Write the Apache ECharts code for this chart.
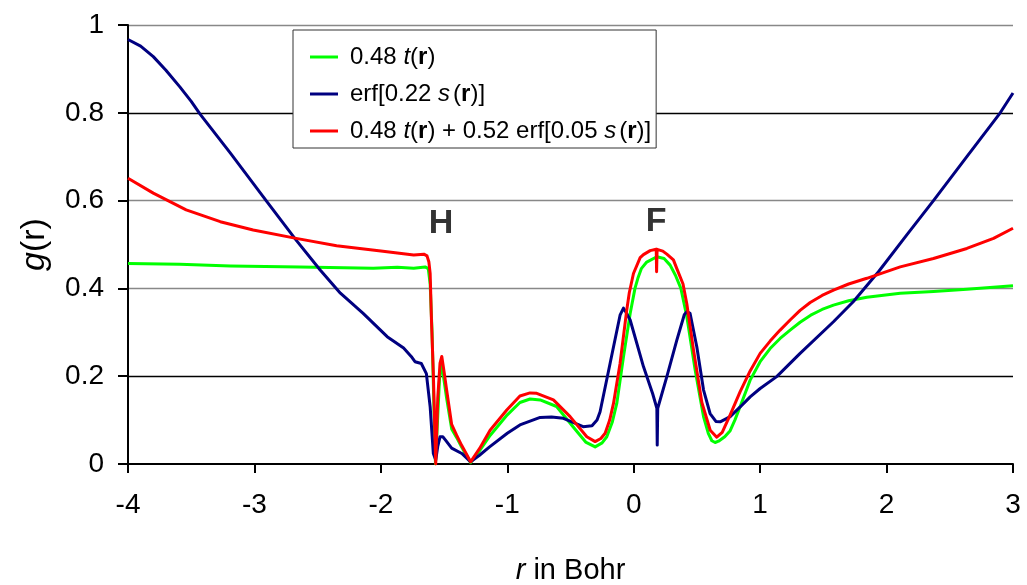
<!DOCTYPE html>
<html><head><meta charset="utf-8">
<script src="https://cdn.jsdelivr.net/npm/echarts@6/dist/echarts.min.js"></script>
<style>html,body{margin:0;padding:0;background:#fff}#c{width:1027px;height:585px}</style>
</head><body><div id="c"></div>
<script>
// ---- data ----
const xRange = [-4, 3];
const yRange = [0, 1];
const seriesNames = ['0.48 t(r)', 'erf[0.22 s(r)]', '0.48 t(r) + 0.52 erf[0.05 s(r)]'];
const seriesColors = ['#00ff00', '#000080', '#ff0000'];

const greenData = [
  [-4.00,0.457],[-3.59,0.455],[-3.19,0.451],[-2.64,0.449],[-2.06,0.446],[-1.87,0.448],[-1.74,0.446],
  [-1.65,0.449],[-1.625,0.445],[-1.61,0.41],[-1.595,0.30],[-1.582,0.15],[-1.568,0.0],[-1.55,0.11],
  [-1.535,0.20],[-1.518,0.225],[-1.50,0.19],[-1.48,0.15],[-1.44,0.08],[-1.40,0.06],[-1.36,0.038],
  [-1.29,0.003],[-1.22,0.03],[-1.136,0.065],[-1.00,0.112],[-0.90,0.140],[-0.82,0.148],[-0.74,0.146],
  [-0.61,0.131],[-0.48,0.085],[-0.38,0.050],[-0.305,0.039],[-0.25,0.048],[-0.213,0.062],[-0.17,0.095],
  [-0.134,0.138],[-0.081,0.244],[-0.028,0.343],[0.01,0.40],[0.035,0.425],[0.06,0.445],[0.103,0.460],
  [0.183,0.472],[0.24,0.468],[0.288,0.453],[0.33,0.43],[0.373,0.40],[0.42,0.336],[0.486,0.214],
  [0.552,0.108],[0.59,0.07],[0.618,0.053],[0.644,0.049],[0.671,0.052],[0.72,0.062],[0.763,0.076],
  [0.80,0.10],[0.842,0.131],[0.921,0.191],[1.0,0.233],[1.079,0.263],[1.158,0.286],[1.237,0.305],
  [1.316,0.323],[1.40,0.339],[1.49,0.352],[1.58,0.362],[1.70,0.372],[1.844,0.380],[2.108,0.389],
  [2.371,0.393],[2.635,0.398],[3.0,0.406]
];

const blueData = [
  [-4.0,0.967],[-3.9,0.952],[-3.80,0.928],[-3.70,0.897],[-3.59,0.859],[-3.50,0.826],[-3.43,0.797],
  [-3.19,0.708],[-2.90,0.597],[-2.67,0.510],[-2.48,0.442],[-2.32,0.389],[-2.14,0.343],[-1.95,0.290],
  [-1.82,0.264],[-1.76,0.245],[-1.73,0.233],[-1.68,0.229],[-1.64,0.206],[-1.61,0.130],[-1.585,0.024],
  [-1.566,0.009],[-1.55,0.04],[-1.532,0.062],[-1.51,0.062],[-1.49,0.055],[-1.44,0.036],[-1.36,0.024],
  [-1.29,0.005],[-1.22,0.02],[-1.14,0.039],[-1.0,0.07],[-0.90,0.089],[-0.74,0.106],[-0.65,0.107],
  [-0.556,0.104],[-0.40,0.085],[-0.33,0.087],[-0.29,0.10],[-0.266,0.119],[-0.187,0.229],[-0.108,0.339],
  [-0.081,0.355],[-0.06,0.345],[-0.028,0.328],[0.077,0.222],[0.15,0.16],[0.183,0.127],[0.186,0.043],
  [0.190,0.127],[0.262,0.199],[0.341,0.282],[0.40,0.34],[0.420,0.347],[0.446,0.343],[0.499,0.267],
  [0.552,0.169],[0.604,0.115],[0.65,0.097],[0.684,0.096],[0.763,0.108],[0.842,0.130],[0.921,0.153],
  [1.0,0.172],[1.131,0.199],[1.316,0.252],[1.58,0.324],[1.738,0.370],[1.936,0.438],[2.160,0.522],
  [2.371,0.600],[2.635,0.700],[2.899,0.800],[3.0,0.845]
];

const redData = [
  [-4.0,0.651],[-3.80,0.617],[-3.54,0.579],[-3.27,0.552],[-3.01,0.533],[-2.67,0.514],[-2.35,0.497],
  [-2.0,0.485],[-1.74,0.476],[-1.66,0.478],[-1.635,0.474],[-1.62,0.46],[-1.61,0.434],[-1.60,0.33],
  [-1.585,0.207],[-1.566,0.0],[-1.55,0.15],[-1.532,0.23],[-1.518,0.245],[-1.50,0.21],[-1.48,0.169],
  [-1.44,0.09],[-1.40,0.065],[-1.36,0.042],[-1.29,0.005],[-1.22,0.035],[-1.136,0.077],[-1.004,0.123],
  [-0.90,0.155],[-0.82,0.162],[-0.767,0.161],[-0.635,0.146],[-0.503,0.108],[-0.371,0.062],
  [-0.305,0.051],[-0.26,0.058],[-0.226,0.070],[-0.19,0.10],[-0.160,0.138],[-0.108,0.229],
  [-0.055,0.351],[-0.035,0.39],[-0.002,0.434],[0.051,0.470],[0.077,0.477],[0.13,0.486],[0.178,0.489],
  [0.181,0.438],[0.185,0.489],[0.23,0.485],[0.262,0.478],[0.314,0.465],[0.341,0.445],[0.39,0.41],
  [0.42,0.365],[0.473,0.26],[0.539,0.14],[0.605,0.077],[0.657,0.061],[0.70,0.072],[0.763,0.112],
  [0.842,0.165],[0.921,0.212],[1.0,0.252],[1.079,0.28],[1.158,0.305],[1.237,0.328],[1.316,0.35],
  [1.396,0.368],[1.49,0.384],[1.58,0.396],[1.70,0.41],[1.844,0.423],[2.108,0.449],
  [2.371,0.468],[2.635,0.491],[2.846,0.514],[3.0,0.537]
];

const peakLabels = [[-1.524, 0.547, 'H'], [0.177, 0.551, 'F']];

// ---- chart ----
const FONT = '"Liberation Sans", Arial, sans-serif';
const legendRich = {
  sp: {width: 7},
  i: {fontStyle: 'italic', fontSize: 24, fontFamily: FONT, lineHeight: 26, color: '#000'},
  is: {fontStyle: 'italic', fontSize: 24, fontFamily: FONT, lineHeight: 26, color: '#000', padding: [0, 3, 0, 0]},
  b: {fontWeight: 'bold', fontSize: 24, fontFamily: FONT, lineHeight: 26, color: '#000'},
  n: {fontSize: 24, fontFamily: FONT, lineHeight: 26, color: '#000'}
};
const legendText = {};
legendText[seriesNames[0]] = '{sp|}{n|0.48 }{i|t}{n|(}{b|r}{n|)}';
legendText[seriesNames[1]] = '{sp|}{n|erf[0.22 }{is|s}{n|(}{b|r}{n|)]}';
legendText[seriesNames[2]] = '{sp|}{n|0.48 }{i|t}{n|(}{b|r}{n|) + 0.52 erf[0.05 }{is|s}{n|(}{b|r}{n|)]}';

const datasets = [greenData, blueData, redData];
const chart = echarts.init(document.getElementById('c'), null, {renderer: 'canvas'});
const series = seriesNames.map((name, k) => ({
  name, type: 'line', data: datasets[k], symbol: 'none', showSymbol: false, smooth: false,
  lineStyle: {color: seriesColors[k], width: 3, join: 'round'}, itemStyle: {color: seriesColors[k]},
  z: 3 + k, animation: false, clip: true
}));
series.push({
  type: 'scatter', data: peakLabels, symbolSize: 1, itemStyle: {color: 'rgba(0,0,0,0)'},
  label: {show: true, position: 'inside', formatter: p => p.value[2], fontSize: 34, fontWeight: 'bold',
          fontFamily: FONT, color: '#000'},
  silent: true, animation: false, z: 10
});

chart.setOption({
  animation: false,
  backgroundColor: '#fff',
  grid: {left: 128, right: 14, top: 25, bottom: 121, outerBoundsMode: 'none', containLabel: false},
  legend: {
    data: seriesNames.map(n => ({name: n, icon: 'rect'})), orient: 'vertical', left: 293, top: 30,
    padding: [14, 5, 4, 17], itemGap: 11, itemWidth: 28, itemHeight: 3,
    backgroundColor: '#fff', borderColor: '#333', borderWidth: 1,
    selectedMode: false,
    textStyle: {fontSize: 24, fontFamily: FONT, color: '#000', lineHeight: 26, rich: legendRich},
    formatter: n => legendText[n]
  },
  xAxis: {
    type: 'value', min: xRange[0], max: xRange[1], interval: 1,
    name: '{i|r} in Bohr', nameLocation: 'middle', nameGap: 92,
    nameTextStyle: {fontSize: 29, fontFamily: FONT, color: '#000',
      rich: {i: {fontStyle: 'italic', fontSize: 29, fontFamily: FONT, color: '#000'}}},
    axisLine: {show: true, onZero: false, lineStyle: {color: '#000', width: 2}},
    axisTick: {show: true, inside: false, length: 9, lineStyle: {color: '#000', width: 2}},
    axisLabel: {fontSize: 28, fontFamily: FONT, color: '#000', margin: 27},
    splitLine: {show: false}
  },
  yAxis: {
    type: 'value', min: yRange[0], max: yRange[1], interval: 0.2,
    name: '{i|g}(r)', nameLocation: 'middle', nameGap: 76,
    nameTextStyle: {fontSize: 34, fontFamily: FONT, color: '#000',
      rich: {i: {fontStyle: 'italic', fontSize: 34, fontFamily: FONT, color: '#000'}}},
    axisLine: {show: true, onZero: false, lineStyle: {color: '#000', width: 2}},
    axisTick: {show: true, inside: false, length: 10, lineStyle: {color: '#000', width: 2}},
    axisLabel: {fontSize: 28, fontFamily: FONT, color: '#000', margin: 24,
      formatter: v => String(Math.round(v * 10) / 10)},
    splitLine: {show: true, showMinLine: false,
      lineStyle: {color: ['#000', '#888', '#888', '#000', '#888'], width: 1.3}}
  },
  series
});
</script></body></html>
